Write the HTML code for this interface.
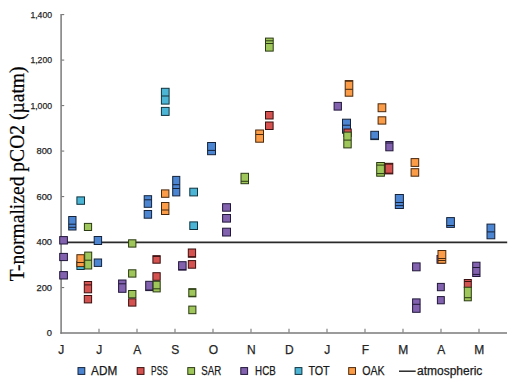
<!DOCTYPE html>
<html><head><meta charset="utf-8"><style>
html,body{margin:0;padding:0;background:#fff;}
svg{display:block;}
text{font-family:"Liberation Sans",sans-serif;fill:#262626;stroke:#262626;stroke-width:0.25px;}
.yl{font-size:9.3px;}
.xl{font-size:12px;}
.lg{font-size:12px;fill:#1a1a1a;stroke:#1a1a1a;}
.yt{font-family:"Liberation Serif",serif;font-size:20.4px;fill:#000;stroke:#000;stroke-width:0.2px;}
</style></head><body>
<svg width="520" height="387" viewBox="0 0 520 387">
<rect width="520" height="387" fill="#fff"/>
<line x1="61.1" y1="14" x2="61.1" y2="333.8" stroke="#7a7a7a" stroke-width="1.5"/>
<line x1="60.35" y1="333" x2="507" y2="333" stroke="#7a7a7a" stroke-width="1.5"/>
<text x="52" y="336.25" text-anchor="end" class="yl">0</text>
<line x1="61.5" y1="287.56" x2="64.2" y2="287.56" stroke="#777" stroke-width="1.1"/>
<text x="52" y="290.76" text-anchor="end" class="yl">200</text>
<line x1="61.5" y1="242.06" x2="64.2" y2="242.06" stroke="#777" stroke-width="1.1"/>
<text x="52" y="245.26" text-anchor="end" class="yl">400</text>
<line x1="61.5" y1="196.57" x2="64.2" y2="196.57" stroke="#777" stroke-width="1.1"/>
<text x="52" y="199.77" text-anchor="end" class="yl">600</text>
<line x1="61.5" y1="151.07" x2="64.2" y2="151.07" stroke="#777" stroke-width="1.1"/>
<text x="52" y="154.27" text-anchor="end" class="yl">800</text>
<line x1="61.5" y1="105.58" x2="64.2" y2="105.58" stroke="#777" stroke-width="1.1"/>
<text x="52" y="108.78" text-anchor="end" class="yl" textLength="21.6" lengthAdjust="spacingAndGlyphs">1,000</text>
<line x1="61.5" y1="60.09" x2="64.2" y2="60.09" stroke="#777" stroke-width="1.1"/>
<text x="52" y="63.29" text-anchor="end" class="yl" textLength="21.6" lengthAdjust="spacingAndGlyphs">1,200</text>
<line x1="61.5" y1="14.59" x2="64.2" y2="14.59" stroke="#777" stroke-width="1.1"/>
<text x="52" y="17.79" text-anchor="end" class="yl" textLength="21.6" lengthAdjust="spacingAndGlyphs">1,400</text>
<text x="61.3" y="354.3" text-anchor="middle" class="xl">J</text>
<line x1="99" y1="328.8" x2="99" y2="332.5" stroke="#777" stroke-width="1.1"/>
<text x="99.3" y="354.3" text-anchor="middle" class="xl">J</text>
<line x1="137" y1="328.8" x2="137" y2="332.5" stroke="#777" stroke-width="1.1"/>
<text x="137.3" y="354.3" text-anchor="middle" class="xl">A</text>
<line x1="175" y1="328.8" x2="175" y2="332.5" stroke="#777" stroke-width="1.1"/>
<text x="175.3" y="354.3" text-anchor="middle" class="xl">S</text>
<line x1="213" y1="328.8" x2="213" y2="332.5" stroke="#777" stroke-width="1.1"/>
<text x="213.3" y="354.3" text-anchor="middle" class="xl">O</text>
<line x1="251" y1="328.8" x2="251" y2="332.5" stroke="#777" stroke-width="1.1"/>
<text x="251.3" y="354.3" text-anchor="middle" class="xl">N</text>
<line x1="289" y1="328.8" x2="289" y2="332.5" stroke="#777" stroke-width="1.1"/>
<text x="289.3" y="354.3" text-anchor="middle" class="xl">D</text>
<line x1="327" y1="328.8" x2="327" y2="332.5" stroke="#777" stroke-width="1.1"/>
<text x="327.3" y="354.3" text-anchor="middle" class="xl">J</text>
<line x1="365" y1="328.8" x2="365" y2="332.5" stroke="#777" stroke-width="1.1"/>
<text x="365.3" y="354.3" text-anchor="middle" class="xl">F</text>
<line x1="403" y1="328.8" x2="403" y2="332.5" stroke="#777" stroke-width="1.1"/>
<text x="403.3" y="354.3" text-anchor="middle" class="xl">M</text>
<line x1="441" y1="328.8" x2="441" y2="332.5" stroke="#777" stroke-width="1.1"/>
<text x="441.3" y="354.3" text-anchor="middle" class="xl">A</text>
<line x1="479" y1="328.8" x2="479" y2="332.5" stroke="#777" stroke-width="1.1"/>
<text x="479.3" y="354.3" text-anchor="middle" class="xl">M</text>
<line x1="61.8" y1="242.35" x2="507.2" y2="242.35" stroke="#2a2a2a" stroke-width="1.6"/>
<rect x="59.70" y="236.60" width="7.70" height="7.40" fill="#8262AE" stroke="#21173a" stroke-width="1"/>
<rect x="59.70" y="253.40" width="7.70" height="7.20" fill="#8262AE" stroke="#21173a" stroke-width="1"/>
<rect x="59.70" y="271.60" width="7.70" height="7.40" fill="#8262AE" stroke="#21173a" stroke-width="1"/>
<rect x="68.70" y="216.50" width="7.30" height="13.50" fill="#4C86D2" stroke="#14223a" stroke-width="1"/>
<line x1="68.70" y1="224.20" x2="76.00" y2="224.20" stroke="#14223a" stroke-width="1"/>
<line x1="68.70" y1="227.30" x2="76.00" y2="227.30" stroke="#14223a" stroke-width="1"/>
<rect x="76.90" y="196.90" width="7.60" height="7.40" fill="#4CB4D4" stroke="#0f3440" stroke-width="1"/>
<rect x="76.90" y="261.50" width="7.30" height="8.00" fill="#4CB4D4" stroke="#0f3440" stroke-width="1"/>
<rect x="76.90" y="254.70" width="7.30" height="11.90" fill="#FB9C48" stroke="#4a280c" stroke-width="1"/>
<line x1="76.90" y1="262.50" x2="84.20" y2="262.50" stroke="#4a280c" stroke-width="1"/>
<rect x="84.40" y="223.40" width="7.20" height="7.10" fill="#9EC65B" stroke="#2a3a12" stroke-width="1"/>
<rect x="84.70" y="252.10" width="7.00" height="16.90" fill="#9EC65B" stroke="#2a3a12" stroke-width="1"/>
<line x1="84.70" y1="260.20" x2="91.70" y2="260.20" stroke="#2a3a12" stroke-width="1"/>
<rect x="94.20" y="236.50" width="7.40" height="8.00" fill="#4C86D2" stroke="#14223a" stroke-width="1"/>
<rect x="94.20" y="259.00" width="7.40" height="7.40" fill="#4C86D2" stroke="#14223a" stroke-width="1"/>
<rect x="84.30" y="281.50" width="7.30" height="11.30" fill="#D4524F" stroke="#3a1010" stroke-width="1"/>
<line x1="84.30" y1="284.90" x2="91.60" y2="284.90" stroke="#3a1010" stroke-width="1"/>
<rect x="84.30" y="295.50" width="7.30" height="7.40" fill="#D4524F" stroke="#3a1010" stroke-width="1"/>
<rect x="118.60" y="280.00" width="7.40" height="12.30" fill="#8262AE" stroke="#21173a" stroke-width="1"/>
<line x1="118.60" y1="283.80" x2="126.00" y2="283.80" stroke="#21173a" stroke-width="1"/>
<rect x="128.60" y="239.80" width="7.30" height="7.30" fill="#9EC65B" stroke="#2a3a12" stroke-width="1"/>
<rect x="128.60" y="269.80" width="7.30" height="7.30" fill="#9EC65B" stroke="#2a3a12" stroke-width="1"/>
<rect x="128.60" y="298.80" width="7.30" height="7.30" fill="#D4524F" stroke="#3a1010" stroke-width="1"/>
<rect x="128.60" y="290.50" width="7.30" height="7.30" fill="#9EC65B" stroke="#2a3a12" stroke-width="1"/>
<rect x="145.70" y="281.30" width="7.30" height="9.30" fill="#8262AE" stroke="#21173a" stroke-width="1"/>
<line x1="145.70" y1="290.00" x2="153.00" y2="290.00" stroke="#21173a" stroke-width="1"/>
<rect x="152.90" y="255.70" width="7.30" height="7.50" fill="#D4524F" stroke="#3a1010" stroke-width="1"/>
<line x1="152.90" y1="256.40" x2="160.20" y2="256.40" stroke="#3a1010" stroke-width="1"/>
<rect x="152.90" y="272.70" width="7.30" height="7.60" fill="#D4524F" stroke="#3a1010" stroke-width="1"/>
<rect x="153.10" y="281.30" width="7.10" height="10.60" fill="#9EC65B" stroke="#2a3a12" stroke-width="1"/>
<line x1="153.10" y1="288.80" x2="160.20" y2="288.80" stroke="#2a3a12" stroke-width="1"/>
<rect x="144.20" y="195.70" width="7.40" height="11.60" fill="#4C86D2" stroke="#14223a" stroke-width="1"/>
<line x1="144.20" y1="199.80" x2="151.60" y2="199.80" stroke="#14223a" stroke-width="1"/>
<rect x="144.20" y="210.50" width="7.40" height="7.70" fill="#4C86D2" stroke="#14223a" stroke-width="1"/>
<rect x="161.50" y="189.90" width="7.40" height="7.40" fill="#FB9C48" stroke="#4a280c" stroke-width="1"/>
<rect x="161.50" y="202.50" width="7.40" height="12.00" fill="#FB9C48" stroke="#4a280c" stroke-width="1"/>
<line x1="161.50" y1="210.00" x2="168.90" y2="210.00" stroke="#4a280c" stroke-width="1"/>
<rect x="161.40" y="88.30" width="7.70" height="15.80" fill="#4CB4D4" stroke="#0f3440" stroke-width="1"/>
<line x1="161.40" y1="96.00" x2="169.10" y2="96.00" stroke="#0f3440" stroke-width="1"/>
<rect x="161.40" y="107.40" width="7.70" height="8.00" fill="#4CB4D4" stroke="#0f3440" stroke-width="1"/>
<rect x="172.70" y="176.40" width="7.10" height="19.50" fill="#4C86D2" stroke="#14223a" stroke-width="1"/>
<line x1="172.70" y1="184.70" x2="179.80" y2="184.70" stroke="#14223a" stroke-width="1"/>
<line x1="172.70" y1="188.50" x2="179.80" y2="188.50" stroke="#14223a" stroke-width="1"/>
<rect x="189.80" y="188.20" width="7.70" height="7.70" fill="#4CB4D4" stroke="#0f3440" stroke-width="1"/>
<rect x="189.80" y="221.90" width="7.70" height="7.60" fill="#4CB4D4" stroke="#0f3440" stroke-width="1"/>
<rect x="188.30" y="249.00" width="7.30" height="8.20" fill="#D4524F" stroke="#3a1010" stroke-width="1"/>
<line x1="188.30" y1="256.70" x2="195.60" y2="256.70" stroke="#3a1010" stroke-width="1"/>
<rect x="188.30" y="260.60" width="7.30" height="7.60" fill="#D4524F" stroke="#3a1010" stroke-width="1"/>
<rect x="178.60" y="261.70" width="7.50" height="8.40" fill="#8262AE" stroke="#21173a" stroke-width="1"/>
<line x1="178.60" y1="269.60" x2="186.10" y2="269.60" stroke="#21173a" stroke-width="1"/>
<rect x="188.80" y="288.70" width="7.10" height="8.10" fill="#9EC65B" stroke="#2a3a12" stroke-width="1"/>
<line x1="188.80" y1="289.30" x2="195.90" y2="289.30" stroke="#2a3a12" stroke-width="1"/>
<line x1="188.80" y1="296.30" x2="195.90" y2="296.30" stroke="#2a3a12" stroke-width="1"/>
<rect x="188.80" y="306.10" width="7.10" height="7.60" fill="#9EC65B" stroke="#2a3a12" stroke-width="1"/>
<rect x="222.60" y="203.70" width="7.90" height="7.50" fill="#8262AE" stroke="#21173a" stroke-width="1"/>
<rect x="222.60" y="214.50" width="7.90" height="7.60" fill="#8262AE" stroke="#21173a" stroke-width="1"/>
<rect x="222.60" y="228.20" width="7.90" height="7.80" fill="#8262AE" stroke="#21173a" stroke-width="1"/>
<rect x="207.60" y="142.50" width="7.90" height="12.20" fill="#4C86D2" stroke="#14223a" stroke-width="1"/>
<line x1="207.60" y1="150.40" x2="215.50" y2="150.40" stroke="#14223a" stroke-width="1"/>
<rect x="241.00" y="173.30" width="7.50" height="10.40" fill="#9EC65B" stroke="#2a3a12" stroke-width="1"/>
<line x1="241.00" y1="181.30" x2="248.50" y2="181.30" stroke="#2a3a12" stroke-width="1"/>
<rect x="255.70" y="130.00" width="7.80" height="12.20" fill="#FB9C48" stroke="#4a280c" stroke-width="1"/>
<line x1="255.70" y1="134.50" x2="263.50" y2="134.50" stroke="#4a280c" stroke-width="1"/>
<rect x="265.50" y="111.50" width="7.60" height="7.50" fill="#D4524F" stroke="#3a1010" stroke-width="1"/>
<rect x="265.50" y="122.00" width="7.60" height="7.50" fill="#D4524F" stroke="#3a1010" stroke-width="1"/>
<rect x="265.50" y="38.10" width="7.70" height="13.00" fill="#9EC65B" stroke="#2a3a12" stroke-width="1"/>
<line x1="265.50" y1="40.80" x2="273.20" y2="40.80" stroke="#2a3a12" stroke-width="1"/>
<line x1="265.50" y1="43.50" x2="273.20" y2="43.50" stroke="#2a3a12" stroke-width="1"/>
<rect x="334.10" y="102.40" width="7.30" height="7.70" fill="#8262AE" stroke="#21173a" stroke-width="1"/>
<rect x="345.20" y="80.60" width="7.60" height="15.60" fill="#FB9C48" stroke="#4a280c" stroke-width="1"/>
<line x1="345.20" y1="81.20" x2="352.80" y2="81.20" stroke="#4a280c" stroke-width="1"/>
<line x1="345.20" y1="89.30" x2="352.80" y2="89.30" stroke="#4a280c" stroke-width="1"/>
<rect x="342.50" y="119.20" width="8.00" height="14.00" fill="#4C86D2" stroke="#14223a" stroke-width="1"/>
<line x1="342.50" y1="125.20" x2="350.50" y2="125.20" stroke="#14223a" stroke-width="1"/>
<rect x="344.00" y="129.00" width="7.20" height="7.50" fill="#D4524F" stroke="#3a1010" stroke-width="1"/>
<rect x="343.80" y="132.10" width="7.40" height="15.80" fill="#9EC65B" stroke="#2a3a12" stroke-width="1"/>
<line x1="343.80" y1="140.10" x2="351.20" y2="140.10" stroke="#2a3a12" stroke-width="1"/>
<rect x="378.10" y="103.80" width="7.70" height="7.90" fill="#FB9C48" stroke="#4a280c" stroke-width="1"/>
<rect x="378.10" y="116.80" width="7.70" height="7.30" fill="#FB9C48" stroke="#4a280c" stroke-width="1"/>
<rect x="370.80" y="131.30" width="7.70" height="8.30" fill="#4C86D2" stroke="#14223a" stroke-width="1"/>
<line x1="370.80" y1="139.00" x2="378.50" y2="139.00" stroke="#14223a" stroke-width="1"/>
<rect x="385.80" y="141.50" width="7.20" height="9.30" fill="#8262AE" stroke="#21173a" stroke-width="1"/>
<line x1="385.80" y1="143.00" x2="393.00" y2="143.00" stroke="#21173a" stroke-width="1"/>
<rect x="376.70" y="162.50" width="7.70" height="13.70" fill="#9EC65B" stroke="#2a3a12" stroke-width="1"/>
<line x1="376.70" y1="165.10" x2="384.40" y2="165.10" stroke="#2a3a12" stroke-width="1"/>
<line x1="376.70" y1="173.60" x2="384.40" y2="173.60" stroke="#2a3a12" stroke-width="1"/>
<rect x="385.20" y="163.30" width="7.60" height="10.60" fill="#D4524F" stroke="#3a1010" stroke-width="1"/>
<line x1="385.20" y1="164.10" x2="392.80" y2="164.10" stroke="#3a1010" stroke-width="1"/>
<line x1="385.20" y1="173.20" x2="392.80" y2="173.20" stroke="#3a1010" stroke-width="1"/>
<rect x="411.10" y="158.60" width="7.60" height="7.80" fill="#FB9C48" stroke="#4a280c" stroke-width="1"/>
<rect x="411.10" y="168.70" width="7.60" height="7.50" fill="#FB9C48" stroke="#4a280c" stroke-width="1"/>
<rect x="395.30" y="194.50" width="8.10" height="14.00" fill="#4C86D2" stroke="#14223a" stroke-width="1"/>
<line x1="395.30" y1="202.50" x2="403.40" y2="202.50" stroke="#14223a" stroke-width="1"/>
<line x1="395.30" y1="205.60" x2="403.40" y2="205.60" stroke="#14223a" stroke-width="1"/>
<rect x="412.60" y="262.90" width="7.50" height="7.90" fill="#8262AE" stroke="#21173a" stroke-width="1"/>
<rect x="412.60" y="298.90" width="7.50" height="13.40" fill="#8262AE" stroke="#21173a" stroke-width="1"/>
<line x1="412.60" y1="304.30" x2="420.10" y2="304.30" stroke="#21173a" stroke-width="1"/>
<rect x="437.00" y="255.50" width="7.50" height="7.70" fill="#8262AE" stroke="#21173a" stroke-width="1"/>
<rect x="438.00" y="250.50" width="7.80" height="12.70" fill="#FB9C48" stroke="#4a280c" stroke-width="1"/>
<line x1="438.00" y1="258.50" x2="445.80" y2="258.50" stroke="#4a280c" stroke-width="1"/>
<line x1="438.00" y1="260.50" x2="445.80" y2="260.50" stroke="#4a280c" stroke-width="1"/>
<rect x="437.40" y="283.40" width="6.90" height="7.30" fill="#8262AE" stroke="#21173a" stroke-width="1"/>
<rect x="437.40" y="296.60" width="6.90" height="7.20" fill="#8262AE" stroke="#21173a" stroke-width="1"/>
<rect x="464.30" y="279.50" width="7.00" height="8.00" fill="#D4524F" stroke="#3a1010" stroke-width="1"/>
<line x1="464.30" y1="281.50" x2="471.30" y2="281.50" stroke="#3a1010" stroke-width="1"/>
<rect x="464.30" y="287.20" width="7.00" height="13.60" fill="#9EC65B" stroke="#2a3a12" stroke-width="1"/>
<line x1="464.30" y1="297.70" x2="471.30" y2="297.70" stroke="#2a3a12" stroke-width="1"/>
<rect x="472.70" y="262.20" width="7.30" height="14.30" fill="#8262AE" stroke="#21173a" stroke-width="1"/>
<line x1="472.70" y1="267.50" x2="480.00" y2="267.50" stroke="#21173a" stroke-width="1"/>
<line x1="472.70" y1="274.40" x2="480.00" y2="274.40" stroke="#21173a" stroke-width="1"/>
<rect x="446.70" y="217.60" width="7.70" height="9.80" fill="#4C86D2" stroke="#14223a" stroke-width="1"/>
<line x1="446.70" y1="225.50" x2="454.40" y2="225.50" stroke="#14223a" stroke-width="1"/>
<rect x="487.00" y="224.10" width="7.80" height="14.70" fill="#4C86D2" stroke="#14223a" stroke-width="1"/>
<line x1="487.00" y1="231.90" x2="494.80" y2="231.90" stroke="#14223a" stroke-width="1"/>
<text transform="translate(23.5,281.2) rotate(-90)" class="yt" textLength="214.8" lengthAdjust="spacingAndGlyphs">T-normalized pCO2 (µatm)</text>
<rect x="78.00" y="367.6" width="6.8" height="6.8" fill="#4C86D2" stroke="#14223a" stroke-width="1"/>
<text x="91.10" y="374.8" class="lg" textLength="26.10" lengthAdjust="spacingAndGlyphs">ADM</text>
<rect x="137.20" y="367.6" width="6.8" height="6.8" fill="#D4524F" stroke="#3a1010" stroke-width="1"/>
<text x="151.10" y="374.8" class="lg" textLength="16.70" lengthAdjust="spacingAndGlyphs">PSS</text>
<rect x="187.80" y="367.6" width="6.8" height="6.8" fill="#9EC65B" stroke="#2a3a12" stroke-width="1"/>
<text x="201.20" y="374.8" class="lg" textLength="20.00" lengthAdjust="spacingAndGlyphs">SAR</text>
<rect x="240.80" y="367.6" width="6.8" height="6.8" fill="#8262AE" stroke="#21173a" stroke-width="1"/>
<text x="255.10" y="374.8" class="lg" textLength="20.60" lengthAdjust="spacingAndGlyphs">HCB</text>
<rect x="295.10" y="367.6" width="6.8" height="6.8" fill="#4CB4D4" stroke="#0f3440" stroke-width="1"/>
<text x="308.40" y="374.8" class="lg" textLength="21.30" lengthAdjust="spacingAndGlyphs">TOT</text>
<rect x="348.70" y="367.6" width="6.8" height="6.8" fill="#FB9C48" stroke="#4a280c" stroke-width="1"/>
<text x="362.30" y="374.8" class="lg" textLength="22.40" lengthAdjust="spacingAndGlyphs">OAK</text>
<line x1="399" y1="371.2" x2="415.7" y2="371.2" stroke="#1a1a1a" stroke-width="1.4"/>
<text x="417.0" y="374.8" class="lg" textLength="65.3" lengthAdjust="spacingAndGlyphs">atmospheric</text>
</svg>
</body></html>
